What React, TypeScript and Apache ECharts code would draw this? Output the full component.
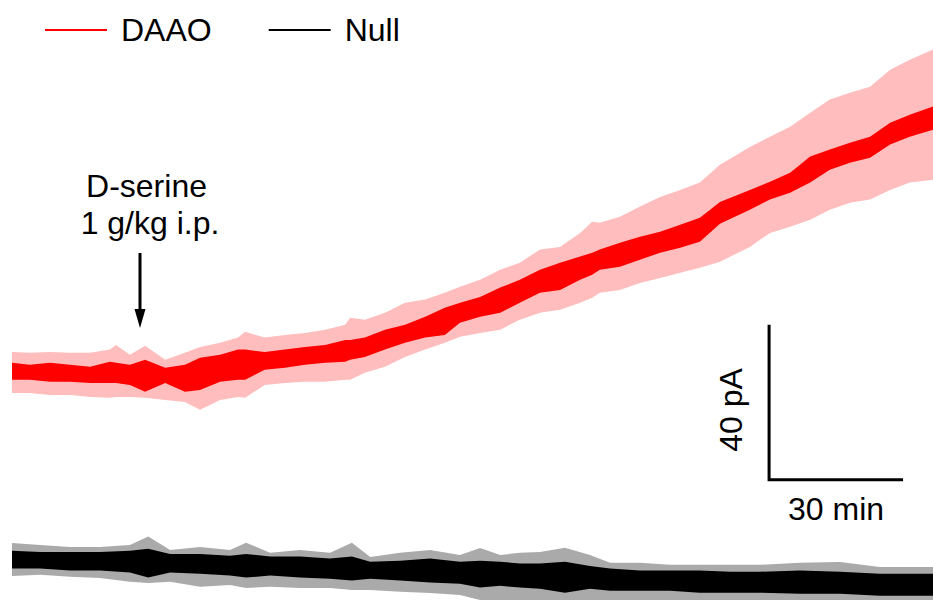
import React, { useEffect, useRef } from "react";
import * as echarts from "echarts";

// Time (min) and current (pA)
const daaoTime = [0, 4.0, 8.5, 13.0, 17.5, 21.9, 23.3, 26.4, 29.8, 34.3, 38.7, 42.1, 46.6, 50.6, 52.2, 56.6, 61.1, 65.6, 70.1, 74.6, 75.7, 79.0, 83.5, 88.0, 92.5, 96.9, 100.3, 104.8, 109.3, 113.7, 118.2, 122.7, 127.2, 129.9, 131.6, 136.1, 140.6, 145.1, 149.6, 154.0, 158.5, 165.2, 169.7, 174.2, 178.7, 183.1, 187.6, 192.1, 196.6, 201.0, 206.2];
// upper / lower edge of the SEM band
const daaoSemUpper = [5.0, 4.8, 5.0, 4.8, 4.8, 5.6, 6.8, 4.3, 6.6, 3.0, 4.8, 6.3, 7.4, 8.7, 10.2, 8.7, 9.4, 9.9, 10.7, 12.0, 13.8, 13.3, 15.1, 17.7, 18.5, 20.3, 21.8, 23.6, 26.2, 28.0, 31.4, 32.1, 35.7, 38.6, 38.3, 39.9, 42.5, 45.0, 46.8, 48.7, 53.3, 57.9, 60.5, 63.1, 66.7, 70.1, 71.9, 73.4, 77.8, 80.4, 83.0];
const daaoSemLower = [-5.6, -5.6, -6.1, -6.1, -6.6, -6.8, -6.6, -6.6, -6.8, -7.4, -7.9, -9.9, -7.4, -6.6, -6.8, -3.5, -3.0, -2.7, -2.7, -2.2, -2.2, -0.4, 1.2, 3.7, 5.6, 7.4, 8.9, 9.9, 10.7, 13.3, 15.1, 15.9, 17.7, 19.0, 20.3, 21.0, 22.8, 24.1, 25.4, 26.7, 28.3, 32.1, 35.7, 37.3, 39.1, 41.7, 43.5, 44.3, 46.8, 48.7, 49.4];
// upper / lower edge of the mean trace noise
const daaoMeanUpper = [2.2, 1.7, 2.2, 1.7, 1.2, 2.5, 2.2, 1.7, 3.0, 0.9, 1.7, 3.5, 4.3, 5.6, 5.6, 5.0, 5.6, 6.3, 6.8, 8.1, 8.1, 8.7, 10.7, 12.0, 14.1, 16.4, 17.7, 19.2, 21.6, 23.6, 26.2, 28.0, 29.6, 30.6, 31.4, 33.2, 34.7, 36.0, 37.8, 39.6, 43.7, 46.8, 48.9, 51.2, 55.4, 57.2, 59.0, 60.5, 64.1, 66.2, 68.3];
const daaoMeanLower = [-2.2, -2.2, -2.7, -2.7, -3.0, -3.0, -3.0, -3.5, -5.3, -3.0, -5.3, -4.8, -2.7, -2.2, -2.2, 0.4, 0.9, 1.7, 2.2, 2.5, 3.0, 3.7, 5.6, 7.4, 8.7, 9.4, 12.5, 14.1, 15.1, 17.7, 20.3, 21.0, 23.6, 24.9, 26.2, 27.0, 28.8, 30.6, 31.9, 33.4, 38.1, 41.7, 44.3, 46.1, 48.7, 52.0, 53.8, 55.1, 58.5, 60.5, 62.3];

const nullTime = [0, 6.3, 13.0, 19.7, 26.4, 30.5, 35.4, 42.1, 48.8, 52.4, 57.8, 64.5, 71.2, 76.1, 80.2, 86.9, 93.6, 100.3, 104.8, 109.3, 113.7, 118.2, 123.8, 129.4, 133.9, 140.6, 147.3, 154.0, 160.8, 167.5, 176.4, 185.4, 194.3, 206.2];
const nullSemUpper = [-44.3, -44.8, -45.3, -45.3, -44.8, -42.6, -46.1, -45.3, -46.1, -44.2, -46.8, -46.1, -46.8, -44.2, -47.9, -46.8, -46.1, -47.4, -45.6, -47.4, -46.8, -46.6, -45.5, -47.4, -49.4, -49.4, -49.9, -49.9, -49.9, -49.9, -49.4, -49.2, -50.5, -50.5];
const nullSemLower = [-52.8, -52.5, -53.0, -53.3, -54.3, -54.6, -54.3, -55.6, -55.1, -55.9, -55.6, -55.9, -55.9, -56.4, -56.4, -56.9, -57.2, -57.7, -59.0, -59.0, -59.2, -59.5, -59.7, -59.5, -59.7, -59.7, -59.7, -60.0, -60.0, -60.0, -60.3, -60.3, -60.5, -60.5];
const nullMeanUpper = [-46.3, -46.6, -46.6, -46.6, -46.3, -45.8, -47.1, -47.1, -47.6, -47.1, -47.8, -47.8, -48.3, -47.8, -49.1, -48.9, -48.3, -49.1, -48.9, -49.1, -49.6, -49.6, -49.1, -50.2, -50.9, -51.4, -51.4, -51.4, -51.7, -51.7, -51.4, -51.7, -52.2, -52.2];
const nullMeanLower = [-50.9, -50.9, -51.4, -51.4, -51.9, -53.2, -51.9, -52.2, -52.7, -53.2, -52.7, -53.2, -53.5, -54.0, -53.5, -54.0, -54.5, -54.8, -55.8, -55.3, -55.8, -56.1, -57.1, -56.1, -56.6, -56.6, -56.6, -57.1, -57.1, -57.1, -57.4, -57.4, -57.9, -57.9];

const seriesNames = ["DAAO", "Null"];
const injectionLabel = ["D-serine", "1 g/kg i.p."];
const scaleBarPA = 40;
const scaleBarMin = 30;
const scaleBarStart = [169.5, -28.0]; // min, pA

const FONT = "'Liberation Sans', Arial, sans-serif";

function band(name: string, t: number[], up: number[], lo: number[], color: string, z: number) {
  return {
    type: "custom",
    name,
    z,
    silent: true,
    coordinateSystem: "cartesian2d",
    data: [[t[0], up[0]]],
    encode: { x: 0, y: 1 },
    renderItem: (_params: any, api: any) => {
      const pts: number[][] = [];
      for (let i = 0; i < t.length; i++) pts.push(api.coord([t[i], up[i]]));
      for (let i = t.length - 1; i >= 0; i--) pts.push(api.coord([t[i], lo[i]]));
      return { type: "polygon", shape: { points: pts }, style: { fill: color } };
    },
  };
}

export default function App() {
  const ref = useRef<HTMLDivElement>(null);
  useEffect(() => {
    if (!ref.current) return;
    const chart = echarts.init(ref.current, undefined, { renderer: "svg" });
    const [sx, sy] = scaleBarStart;
    chart.setOption({
      animation: false,
      backgroundColor: "#ffffff",
      grid: { left: 12, right: 0, top: 0, bottom: 0 },
      xAxis: { type: "value", min: 0, max: 206.2, show: false },
      yAxis: { type: "value", min: -59, max: 95.8, show: false },
      legend: {
        left: 40,
        top: 9,
        padding: 5,
        icon: "rect",
        itemWidth: 62,
        itemHeight: 2,
        itemGap: 57,
        selectedMode: false,
        data: [
          { name: seriesNames[0], itemStyle: { color: "#ff0000" } },
          { name: seriesNames[1], itemStyle: { color: "#000000" } },
        ],
        textStyle: { fontFamily: FONT, fontSize: 32, color: "#000", padding: [0, 0, 0, 9] },
      },
      series: [
        band(seriesNames[0], daaoTime, daaoSemUpper, daaoSemLower, "#ffbdbd", 1),
        band(seriesNames[1], nullTime, nullSemUpper, nullSemLower, "#aaaaaa", 1),
        band(seriesNames[0], daaoTime, daaoMeanUpper, daaoMeanLower, "#ff0000", 2),
        band(seriesNames[1], nullTime, nullMeanUpper, nullMeanLower, "#000000", 2),
        {
          type: "line",
          name: "scale",
          silent: true,
          symbol: "none",
          z: 3,
          lineStyle: { color: "#000", width: 3, join: "miter", cap: "butt" },
          data: [
            [sx, sy + scaleBarPA],
            [sx, sy],
            [sx + scaleBarMin, sy],
          ],
        },
      ],
      graphic: [
        { type: "text", x: 146.5, y: 186, style: { text: injectionLabel[0], font: `32px ${FONT}`, fill: "#000", align: "center", verticalAlign: "middle" } },
        { type: "text", x: 150, y: 223, style: { text: injectionLabel[1], font: `32px ${FONT}`, fill: "#000", align: "center", verticalAlign: "middle" } },
        { type: "line", shape: { x1: 140, y1: 253, x2: 140, y2: 312 }, style: { stroke: "#000", lineWidth: 3 } },
        { type: "polygon", shape: { points: [[134.5, 309], [145.5, 309], [140, 328]] }, style: { fill: "#000" } },
        { type: "text", x: 731, y: 410, rotation: Math.PI / 2, style: { text: `${scaleBarPA} pA`, font: `32px ${FONT}`, fill: "#000", align: "center", verticalAlign: "middle" } },
        { type: "text", x: 836, y: 509, style: { text: `${scaleBarMin} min`, font: `32px ${FONT}`, fill: "#000", align: "center", verticalAlign: "middle" } },
      ],
    });
    return () => chart.dispose();
  }, []);
  return <div ref={ref} style={{ position: "fixed", left: 0, top: 0, width: 933, height: 600 }} />;
}
